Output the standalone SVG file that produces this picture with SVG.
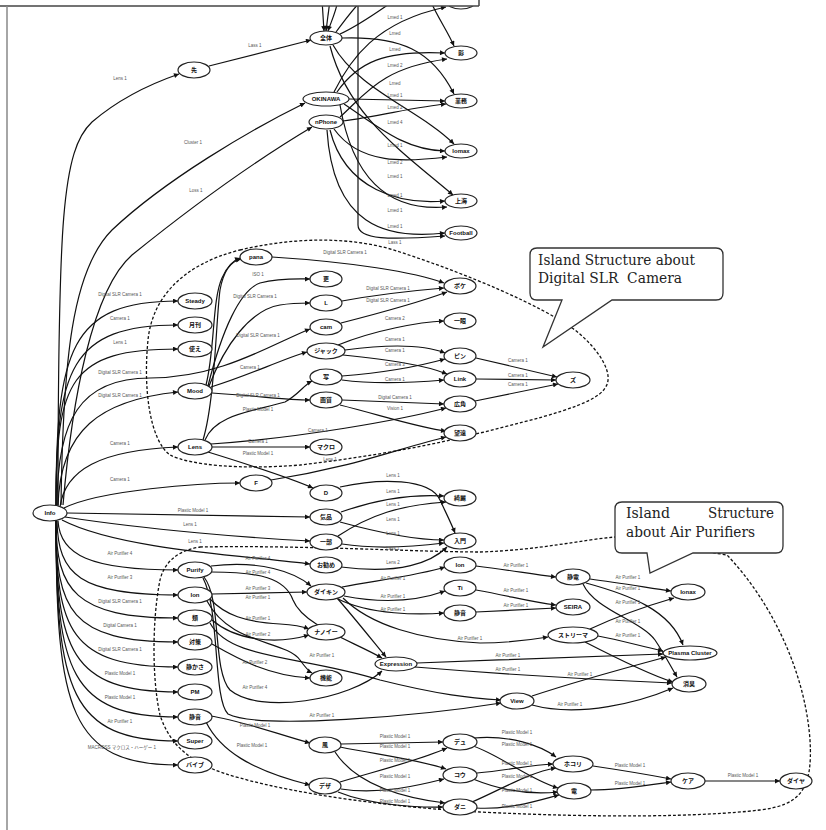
<svg xmlns="http://www.w3.org/2000/svg" width="826" height="830" viewBox="0 0 826 830">
<defs>
<marker id="a" viewBox="0 0 10 10" refX="10" refY="5" markerWidth="6" markerHeight="5" markerUnits="userSpaceOnUse" orient="auto"><path d="M0,0 L10,5 L0,10 z" fill="#111"/></marker>
<style>
.e{fill:none;stroke:#111;stroke-width:1.2;marker-end:url(#a)}
.p{fill:none;stroke:#111;stroke-width:1.2}
.l{font-family:"Liberation Sans","Noto Sans CJK JP",sans-serif;font-size:4.5px;fill:#555;text-anchor:middle}
.n ellipse{fill:#fff;stroke:#222;stroke-width:1.2}
.n text{font-family:"Liberation Sans","Noto Sans CJK JP",sans-serif;font-size:6px;font-weight:bold;fill:#111;text-anchor:middle}
.d{fill:none;stroke:#111;stroke-width:1.3;stroke-dasharray:3,2}
.c{fill:#fff;stroke:#333;stroke-width:1.3}
.ct{font-family:"DejaVu Serif","Liberation Serif",serif;font-size:14px;fill:#222}
</style>
</defs>
<rect width="826" height="830" fill="#fff"/>
<g id="islands">
<path class="d" d="M 240,250 C 290,238 350,235 400,252 C 470,275 540,305 575,330 C 600,350 615,375 605,388 C 595,405 540,418 480,433 C 420,448 360,458 300,465 C 240,470 190,465 170,455 C 150,440 143,390 148,340 C 152,300 180,265 240,250 Z"/>
<path class="d" d="M 200,547 C 300,545 420,552 480,552 C 540,550 580,540 615,537 L 727,555 C 770,600 805,670 810,740 C 813,790 800,805 760,810 C 700,817 600,818 480,812 C 400,808 300,795 240,778 C 190,765 170,745 160,715 C 152,680 152,620 160,580 C 165,560 180,550 200,547 Z"/>
</g>
<g id="connectors">
<path class="e" d="M 209,66 L 311,40"/>
<path class="e" d="M 58,505 C 58,220 62,150 92,122 C 120,98 150,84 179,74"/>
<path class="e" d="M 61,505 C 63,360 72,270 112,230 C 165,180 250,130 305,103"/>
<path class="e" d="M 63,505 C 72,400 92,290 132,255 C 200,200 265,155 312,127"/>
<path class="e" d="M 322,0 L 324,31"/>
<path class="e" d="M 330,0 L 326,31"/>
<path class="e" d="M 338,0 C 336,12 331,22 328,31"/>
<path class="p" d="M 336,32 C 345,20 352,10 362,0"/>
<path class="p" d="M 340,34 C 360,25 380,10 395,0"/>
<path class="e" d="M 358,0 L 358,225 C 358,240 390,240 445,236"/>
<path class="e" d="M 334,92 C 350,60 375,22 446,7"/>
<path class="e" d="M 430,0 C 438,18 448,32 454,46"/>
<path class="e" d="M 337,92 C 358,62 385,50 445,53"/>
<path class="e" d="M 340,117 C 365,95 380,68 447,59"/>
<path class="e" d="M 342,38 C 400,36 432,50 454,94"/>
<path class="e" d="M 349,99 L 445,101"/>
<path class="e" d="M 343,121 C 380,116 420,106 446,104"/>
<path class="e" d="M 333,45 C 358,90 420,110 454,144"/>
<path class="e" d="M 344,104 C 380,128 405,150 445,151"/>
<path class="e" d="M 334,129 C 360,165 405,162 447,157"/>
<path class="e" d="M 330,46 C 348,115 400,150 453,195"/>
<path class="e" d="M 330,130 C 345,190 400,205 445,201"/>
<path class="e" d="M 340,105 C 352,175 385,212 447,207"/>
<path class="e" d="M 327,130 C 333,225 385,240 445,233"/>
<path class="e" d="M 56,506 C 56,350 70,301 178,301"/>
<path class="e" d="M 56,506 C 56,370 70,325 178,325"/>
<path class="e" d="M 56,506 C 56,380 70,349 178,349"/>
<path class="e" d="M 58,506 C 60,430 100,400 178,392"/>
<path class="e" d="M 60,507 C 65,470 100,450 178,447"/>
<path class="e" d="M 64,508 C 100,490 200,483 240,483"/>
<path class="e" d="M 57,506 C 57,420 80,378 150,378 C 220,378 270,345 310,329"/>
<path class="e" d="M 67,513 L 310,517"/>
<path class="e" d="M 65,517 C 150,530 250,538 310,541"/>
<path class="e" d="M 62,520 C 120,550 250,556 310,564"/>
<path class="e" d="M 58,521 C 60,555 90,570 178,570"/>
<path class="e" d="M 57,521 C 58,575 80,595 178,595"/>
<path class="e" d="M 56,521 C 56,590 75,618 178,618"/>
<path class="e" d="M 56,521 C 56,610 70,642 178,642"/>
<path class="e" d="M 56,521 C 56,630 70,667 178,667"/>
<path class="e" d="M 56,521 C 56,650 70,692 178,692"/>
<path class="e" d="M 56,521 C 56,670 70,717 178,717"/>
<path class="e" d="M 56,521 C 56,690 70,741 178,741"/>
<path class="e" d="M 56,521 C 56,710 70,765 178,765"/>
<path class="e" d="M 206,385 C 215,350 212,300 222,278 C 228,264 234,260 240,258"/>
<path class="e" d="M 203,440 C 215,400 216,320 220,290 C 224,268 232,261 241,259"/>
<path class="e" d="M 208,386 C 222,330 240,290 260,283 C 280,278 295,279 310,279"/>
<path class="e" d="M 209,386 C 225,345 250,310 280,305 C 292,303 300,303 310,303"/>
<path class="e" d="M 211,387 C 250,375 280,360 307,352"/>
<path class="e" d="M 212,393 C 260,396 285,400 310,400"/>
<path class="e" d="M 205,440 C 215,415 250,412 285,402 C 298,395 304,385 312,381"/>
<path class="e" d="M 272,257 C 350,262 415,272 444,283"/>
<path class="e" d="M 342,301 C 380,294 420,290 444,288"/>
<path class="e" d="M 341,323 C 380,313 420,302 447,292"/>
<path class="e" d="M 338,345 C 375,330 420,322 444,321"/>
<path class="e" d="M 345,350 C 390,344 425,345 445,353"/>
<path class="e" d="M 343,355 C 390,360 425,365 447,374"/>
<path class="e" d="M 342,376 C 380,373 420,366 445,359"/>
<path class="e" d="M 342,380 C 380,385 420,382 444,380"/>
<path class="e" d="M 342,400 L 444,404"/>
<path class="e" d="M 340,405 C 380,415 420,428 446,431"/>
<path class="e" d="M 211,444 C 300,438 400,420 446,408"/>
<path class="e" d="M 212,447 L 310,447"/>
<path class="e" d="M 208,452 C 250,465 290,478 313,488"/>
<path class="e" d="M 271,480 C 350,468 400,448 446,437"/>
<path class="e" d="M 476,358 L 557,377"/>
<path class="e" d="M 476,379 L 556,380"/>
<path class="e" d="M 475,401 L 558,384"/>
<path class="e" d="M 340,487 C 380,478 430,478 440,500 C 447,515 452,525 455,533"/>
<path class="e" d="M 341,512 C 375,500 410,494 444,496"/>
<path class="e" d="M 340,522 C 380,533 420,540 444,540"/>
<path class="e" d="M 338,536 C 370,515 400,505 446,502"/>
<path class="e" d="M 342,544 C 380,550 420,546 444,543"/>
<path class="e" d="M 341,567 C 400,575 432,562 447,547"/>
<path class="e" d="M 211,566 C 260,560 295,572 311,586"/>
<path class="e" d="M 211,572 C 260,572 285,578 293,600 C 303,625 350,640 382,658"/>
<path class="e" d="M 204,577 C 222,600 212,670 230,690 C 260,715 350,700 382,671"/>
<path class="e" d="M 203,578 C 220,610 213,700 228,714 C 260,730 420,716 501,703"/>
<path class="e" d="M 212,594 L 307,592"/>
<path class="e" d="M 210,599 C 225,615 245,622 280,624 C 298,625 304,627 309,629"/>
<path class="e" d="M 212,620 C 235,640 275,645 309,635"/>
<path class="e" d="M 207,601 C 230,645 285,640 300,660 C 305,667 308,671 312,673"/>
<path class="e" d="M 210,623 C 230,660 300,655 380,680 C 440,695 470,698 501,700"/>
<path class="e" d="M 212,644 C 240,660 270,676 310,678"/>
<path class="e" d="M 342,587 C 380,580 420,575 445,567"/>
<path class="e" d="M 344,596 C 385,604 420,600 445,591"/>
<path class="e" d="M 338,599 C 370,615 420,615 444,613"/>
<path class="e" d="M 337,598 C 352,615 372,640 386,657"/>
<path class="e" d="M 343,598 C 370,625 420,640 480,643 C 510,643 530,640 548,637"/>
<path class="e" d="M 476,566 C 510,570 530,574 556,577"/>
<path class="e" d="M 476,590 C 510,596 530,602 556,605"/>
<path class="e" d="M 476,612 L 556,608"/>
<path class="e" d="M 590,579 C 620,583 650,588 671,591"/>
<path class="e" d="M 586,583 C 630,595 670,610 683,645"/>
<path class="e" d="M 583,584 C 595,610 640,620 655,640 C 665,655 670,665 677,677"/>
<path class="e" d="M 590,629 C 620,615 650,605 674,598"/>
<path class="e" d="M 598,636 C 620,640 640,646 663,651"/>
<path class="e" d="M 585,642 C 620,660 650,675 673,682"/>
<path class="e" d="M 417,663 C 500,660 600,656 663,654"/>
<path class="e" d="M 415,667 C 500,674 600,680 672,683"/>
<path class="e" d="M 532,696 C 580,680 640,664 666,657"/>
<path class="e" d="M 532,705 C 580,718 640,702 673,688"/>
<path class="e" d="M 210,716 C 240,720 280,735 310,743"/>
<path class="e" d="M 206,722 C 220,750 250,770 310,785"/>
<path class="e" d="M 341,744 L 443,742"/>
<path class="e" d="M 340,747 C 380,755 420,760 446,769"/>
<path class="e" d="M 335,752 C 350,775 380,795 445,803"/>
<path class="e" d="M 340,782 C 380,770 420,760 447,748"/>
<path class="e" d="M 341,789 C 380,795 420,785 444,779"/>
<path class="e" d="M 338,792 C 370,805 420,808 443,807"/>
<path class="e" d="M 474,738 C 510,735 540,745 556,757"/>
<path class="e" d="M 473,746 C 500,755 530,780 558,788"/>
<path class="e" d="M 477,773 C 510,770 530,765 553,764"/>
<path class="e" d="M 473,779 C 500,790 530,795 558,792"/>
<path class="e" d="M 472,802 C 500,790 530,772 556,768"/>
<path class="e" d="M 476,808 C 510,810 540,800 559,795"/>
<path class="e" d="M 593,766 C 620,770 650,775 671,779"/>
<path class="e" d="M 590,790 C 620,790 650,785 671,782"/>
<path class="e" d="M 705,781 L 780,781"/>
<g id="edge-labels">
<text class="l" x="255" y="47">Lass 1</text>
<text class="l" x="120" y="80">Lens 1</text>
<text class="l" x="193" y="144">Cluster 1</text>
<text class="l" x="196" y="192">Loss 1</text>
<text class="l" x="395" y="19">Lmed 1</text>
<text class="l" x="395" y="35">Lmed</text>
<text class="l" x="395" y="51">Lmed</text>
<text class="l" x="395" y="67">Lmed 2</text>
<text class="l" x="395" y="85">Lmed</text>
<text class="l" x="395" y="97">Lmed 1</text>
<text class="l" x="395" y="109">Lmed 2</text>
<text class="l" x="395" y="124">Lmed 4</text>
<text class="l" x="395" y="147">Lmed 1</text>
<text class="l" x="395" y="164">Lmed 2</text>
<text class="l" x="395" y="178">Lmed 1</text>
<text class="l" x="395" y="197">Lmed 1</text>
<text class="l" x="395" y="212">Lmed 1</text>
<text class="l" x="395" y="228">Lmed 1</text>
<text class="l" x="395" y="244">Lass 1</text>
<text class="l" x="120" y="296">Digital SLR Camera 1</text>
<text class="l" x="120" y="320">Camera 1</text>
<text class="l" x="120" y="344">Lens 1</text>
<text class="l" x="120" y="374">Digital SLR Camera 1</text>
<text class="l" x="120" y="397">Digital SLR Camera 1</text>
<text class="l" x="120" y="445">Camera 1</text>
<text class="l" x="120" y="481">Camera 1</text>
<text class="l" x="345" y="254">Digital SLR Camera 1</text>
<text class="l" x="258" y="276">ISO 1</text>
<text class="l" x="255" y="298">Digital SLR Camera 1</text>
<text class="l" x="388" y="290">Digital SLR Camera 1</text>
<text class="l" x="388" y="302">Digital SLR Camera 1</text>
<text class="l" x="258" y="337">Digital SLR Camera 1</text>
<text class="l" x="395" y="320">Camera 2</text>
<text class="l" x="395" y="341">Camera 1</text>
<text class="l" x="395" y="352">Camera 1</text>
<text class="l" x="395" y="366">Camera 3</text>
<text class="l" x="395" y="381">Camera 1</text>
<text class="l" x="250" y="369">Camera 1</text>
<text class="l" x="258" y="397">Digital SLR Camera 1</text>
<text class="l" x="258" y="411">Plastic Model 1</text>
<text class="l" x="395" y="399">Digital Camera 1</text>
<text class="l" x="395" y="410">Vision 1</text>
<text class="l" x="318" y="432">Camera 1</text>
<text class="l" x="258" y="443">Camera 1</text>
<text class="l" x="258" y="455">Plastic Model 1</text>
<text class="l" x="330" y="461">Lens 1</text>
<text class="l" x="518" y="362">Camera 1</text>
<text class="l" x="518" y="377">Camera 1</text>
<text class="l" x="518" y="386">Camera 1</text>
<text class="l" x="193" y="512">Plastic Model 1</text>
<text class="l" x="190" y="526">Lens 1</text>
<text class="l" x="195" y="543">Lens 1</text>
<text class="l" x="393" y="477">Lens 1</text>
<text class="l" x="393" y="493">Lens 1</text>
<text class="l" x="393" y="506">Lens 1</text>
<text class="l" x="393" y="521">Lens 1</text>
<text class="l" x="393" y="535">Lens 1</text>
<text class="l" x="393" y="550">Lass 1</text>
<text class="l" x="393" y="564">Lens 2</text>
<text class="l" x="120" y="555">Air Purifier 4</text>
<text class="l" x="120" y="579">Air Purifier 3</text>
<text class="l" x="120" y="603">Digital SLR Camera 1</text>
<text class="l" x="120" y="627">Digital Camera 1</text>
<text class="l" x="120" y="651">Digital SLR Camera 1</text>
<text class="l" x="120" y="675">Plastic Model 1</text>
<text class="l" x="120" y="699">Plastic Model 1</text>
<text class="l" x="120" y="723">Air Purifier 1</text>
<text class="l" x="122" y="749">MACROSS マクロス・ハーゲー 1</text>
<text class="l" x="258" y="560">Air Purifier 4</text>
<text class="l" x="258" y="574">Air Purifier 4</text>
<text class="l" x="258" y="590">Air Purifier 3</text>
<text class="l" x="258" y="599">Air Purifier 1</text>
<text class="l" x="258" y="620">Air Purifier 1</text>
<text class="l" x="258" y="636">Air Purifier 2</text>
<text class="l" x="322" y="657">Air Purifier 1</text>
<text class="l" x="255" y="664">Air Purifier 2</text>
<text class="l" x="255" y="689">Air Purifier 4</text>
<text class="l" x="322" y="717">Air Purifier 1</text>
<text class="l" x="393" y="580">Air Purifier 1</text>
<text class="l" x="393" y="598">Air Purifier 1</text>
<text class="l" x="393" y="611">Air Purifier 1</text>
<text class="l" x="470" y="640">Air Purifier 1</text>
<text class="l" x="516" y="567">Air Purifier 1</text>
<text class="l" x="516" y="592">Air Purifier 1</text>
<text class="l" x="516" y="607">Air Purifier 1</text>
<text class="l" x="628" y="579">Air Purifier 1</text>
<text class="l" x="628" y="590">Air Purifier 1</text>
<text class="l" x="628" y="604">Air Purifier 1</text>
<text class="l" x="628" y="623">Air Purifier 1</text>
<text class="l" x="628" y="637">Air Purifier 1</text>
<text class="l" x="508" y="657">Air Purifier 1</text>
<text class="l" x="508" y="671">Air Purifier 1</text>
<text class="l" x="580" y="676">Air Purifier 1</text>
<text class="l" x="570" y="706">Air Purifier 1</text>
<text class="l" x="255" y="727">Plastic Model 1</text>
<text class="l" x="252" y="747">Plastic Model 1</text>
<text class="l" x="395" y="738">Plastic Model 1</text>
<text class="l" x="395" y="748">Plastic Model 1</text>
<text class="l" x="395" y="762">Plastic Model 1</text>
<text class="l" x="395" y="778">Plastic Model 1</text>
<text class="l" x="395" y="792">Plastic Model 1</text>
<text class="l" x="395" y="803">Plastic Model 1</text>
<text class="l" x="517" y="734">Plastic Model 1</text>
<text class="l" x="517" y="746">Plastic Model 1</text>
<text class="l" x="517" y="765">Plastic Model 1</text>
<text class="l" x="517" y="778">Plastic Model 1</text>
<text class="l" x="517" y="792">Plastic Model 1</text>
<text class="l" x="517" y="808">Plastic Model 1</text>
<text class="l" x="630" y="767">Plastic Model 1</text>
<text class="l" x="630" y="785">Plastic Model 1</text>
<text class="l" x="743" y="777">Plastic Model 1</text>
</g>
</g>
<g id="nodes">
<g class="n" id="n-info"><ellipse cx="50" cy="513" rx="17" ry="8"/><text x="50" y="515">Info</text></g>
<g class="n" id="n-sen"><ellipse cx="194" cy="70" rx="16" ry="8"/><text x="194" y="72">先</text></g>
<g class="n" id="n-zentai"><ellipse cx="326" cy="38" rx="16" ry="7"/><text x="326" y="40">全体</text></g>
<g class="n" id="n-okinawa"><ellipse cx="326" cy="99" rx="23" ry="7"/><text x="326" y="101">OKINAWA</text></g>
<g class="n" id="n-nphone"><ellipse cx="326" cy="122" rx="17" ry="7"/><text x="326" y="124">nPhone</text></g>
<g class="n" id="n-top"><ellipse cx="461" cy="1" rx="15" ry="8"/></g>
<g class="n" id="n-kage"><ellipse cx="461" cy="53" rx="16" ry="7"/><text x="461" y="55">影</text></g>
<g class="n" id="n-gyomu"><ellipse cx="461" cy="101" rx="16" ry="7"/><text x="461" y="103">業務</text></g>
<g class="n" id="n-lomax"><ellipse cx="461" cy="151" rx="16" ry="7"/><text x="461" y="153">lomax</text></g>
<g class="n" id="n-shanghai"><ellipse cx="461" cy="201" rx="16" ry="7"/><text x="461" y="203">上海</text></g>
<g class="n" id="n-football"><ellipse cx="461" cy="233" rx="16" ry="7"/><text x="461" y="235">Football</text></g>
<g class="n" id="n-steady"><ellipse cx="195" cy="301" rx="17" ry="8"/><text x="195" y="303">Steady</text></g>
<g class="n" id="n-gekkan"><ellipse cx="195" cy="325" rx="17" ry="8"/><text x="195" y="327">月刊</text></g>
<g class="n" id="n-tsukae"><ellipse cx="195" cy="349" rx="17" ry="8"/><text x="195" y="351">使え</text></g>
<g class="n" id="n-mood"><ellipse cx="195" cy="391" rx="17" ry="8"/><text x="195" y="393">Mood</text></g>
<g class="n" id="n-lens"><ellipse cx="195" cy="447" rx="17" ry="8"/><text x="195" y="449">Lens</text></g>
<g class="n" id="n-pana"><ellipse cx="256" cy="257" rx="16" ry="8"/><text x="256" y="259">pana</text></g>
<g class="n" id="n-sara"><ellipse cx="326" cy="279" rx="16" ry="8"/><text x="326" y="281">更</text></g>
<g class="n" id="n-l"><ellipse cx="326" cy="303" rx="16" ry="8"/><text x="326" y="305">L</text></g>
<g class="n" id="n-cam"><ellipse cx="326" cy="327" rx="16" ry="8"/><text x="326" y="329">cam</text></g>
<g class="n" id="n-jack"><ellipse cx="326" cy="351" rx="19" ry="8"/><text x="326" y="353">ジャック</text></g>
<g class="n" id="n-sha"><ellipse cx="326" cy="377" rx="16" ry="8"/><text x="326" y="379">写</text></g>
<g class="n" id="n-gashitsu"><ellipse cx="326" cy="400" rx="16" ry="8"/><text x="326" y="402">画質</text></g>
<g class="n" id="n-macro"><ellipse cx="326" cy="447" rx="16" ry="8"/><text x="326" y="449">マクロ</text></g>
<g class="n" id="n-boke"><ellipse cx="460" cy="286" rx="16" ry="8"/><text x="460" y="288">ボケ</text></g>
<g class="n" id="n-ichigan"><ellipse cx="460" cy="321" rx="16" ry="8"/><text x="460" y="323">一眼</text></g>
<g class="n" id="n-pin"><ellipse cx="460" cy="356" rx="16" ry="8"/><text x="460" y="358">ピン</text></g>
<g class="n" id="n-link"><ellipse cx="460" cy="379" rx="16" ry="8"/><text x="460" y="381">Link</text></g>
<g class="n" id="n-kokaku"><ellipse cx="460" cy="404" rx="16" ry="8"/><text x="460" y="406">広角</text></g>
<g class="n" id="n-boen"><ellipse cx="460" cy="433" rx="16" ry="8"/><text x="460" y="435">望遠</text></g>
<g class="n" id="n-zu"><ellipse cx="573" cy="380" rx="17" ry="8"/><text x="573" y="382">ズ</text></g>
<g class="n" id="n-f"><ellipse cx="256" cy="483" rx="16" ry="8"/><text x="256" y="485">F</text></g>
<g class="n" id="n-d"><ellipse cx="326" cy="493" rx="16" ry="8"/><text x="326" y="495">D</text></g>
<g class="n" id="n-kihin"><ellipse cx="326" cy="517" rx="16" ry="8"/><text x="326" y="519">気品</text></g>
<g class="n" id="n-ichibu"><ellipse cx="326" cy="542" rx="16" ry="8"/><text x="326" y="544">一部</text></g>
<g class="n" id="n-osusume"><ellipse cx="326" cy="565" rx="16" ry="8"/><text x="326" y="567">お勧め</text></g>
<g class="n" id="n-kirei"><ellipse cx="460" cy="498" rx="16" ry="8"/><text x="460" y="500">綺麗</text></g>
<g class="n" id="n-nyumon"><ellipse cx="460" cy="541" rx="16" ry="8"/><text x="460" y="543">入門</text></g>
<g class="n" id="n-purify"><ellipse cx="195" cy="570" rx="17" ry="8"/><text x="195" y="572">Purify</text></g>
<g class="n" id="n-ion"><ellipse cx="195" cy="595" rx="17" ry="8"/><text x="195" y="597">Ion</text></g>
<g class="n" id="n-rui"><ellipse cx="195" cy="618" rx="17" ry="8"/><text x="195" y="620">類</text></g>
<g class="n" id="n-taisaku"><ellipse cx="195" cy="642" rx="17" ry="8"/><text x="195" y="644">対策</text></g>
<g class="n" id="n-shizukasa"><ellipse cx="195" cy="667" rx="17" ry="8"/><text x="195" y="669">静かさ</text></g>
<g class="n" id="n-pm"><ellipse cx="195" cy="692" rx="17" ry="8"/><text x="195" y="694">PM</text></g>
<g class="n" id="n-seion"><ellipse cx="195" cy="717" rx="17" ry="8"/><text x="195" y="719">静音</text></g>
<g class="n" id="n-super"><ellipse cx="195" cy="741" rx="17" ry="8"/><text x="195" y="743">Super</text></g>
<g class="n" id="n-vibe"><ellipse cx="195" cy="765" rx="17" ry="8"/><text x="195" y="767">バイブ</text></g>
<g class="n" id="n-daikin"><ellipse cx="326" cy="592" rx="19" ry="8"/><text x="326" y="594">ダイキン</text></g>
<g class="n" id="n-nanoe"><ellipse cx="326" cy="632" rx="19" ry="8"/><text x="326" y="634">ナノイー</text></g>
<g class="n" id="n-kino"><ellipse cx="326" cy="678" rx="16" ry="8"/><text x="326" y="680">機能</text></g>
<g class="n" id="n-expr"><ellipse cx="396" cy="664" rx="21" ry="7"/><text x="396" y="666">Expression</text></g>
<g class="n" id="n-ion2"><ellipse cx="460" cy="565" rx="16" ry="8"/><text x="460" y="567">Ion</text></g>
<g class="n" id="n-ti"><ellipse cx="460" cy="588" rx="16" ry="8"/><text x="460" y="590">Ti</text></g>
<g class="n" id="n-seion2"><ellipse cx="460" cy="613" rx="16" ry="8"/><text x="460" y="615">静音</text></g>
<g class="n" id="n-seiden"><ellipse cx="573" cy="577" rx="17" ry="8"/><text x="573" y="579">静電</text></g>
<g class="n" id="n-seira"><ellipse cx="573" cy="607" rx="17" ry="8"/><text x="573" y="609">SEIRA</text></g>
<g class="n" id="n-ionax"><ellipse cx="688" cy="592" rx="17" ry="8"/><text x="688" y="594">Ionax</text></g>
<g class="n" id="n-streamer"><ellipse cx="573" cy="635" rx="25" ry="8"/><text x="573" y="637">ストリーマ</text></g>
<g class="n" id="n-plasma"><ellipse cx="690" cy="653" rx="27" ry="7"/><text x="690" y="655">Plasma Cluster</text></g>
<g class="n" id="n-shoshu"><ellipse cx="689" cy="684" rx="17" ry="8"/><text x="689" y="686">消臭</text></g>
<g class="n" id="n-view"><ellipse cx="517" cy="701" rx="17" ry="8"/><text x="517" y="703">View</text></g>
<g class="n" id="n-kaze"><ellipse cx="325" cy="745" rx="16" ry="8"/><text x="325" y="747">風</text></g>
<g class="n" id="n-deza"><ellipse cx="325" cy="786" rx="16" ry="8"/><text x="325" y="788">デザ</text></g>
<g class="n" id="n-dyu"><ellipse cx="460" cy="742" rx="17" ry="8"/><text x="460" y="744">デュ</text></g>
<g class="n" id="n-kou"><ellipse cx="460" cy="775" rx="17" ry="8"/><text x="460" y="777">コウ</text></g>
<g class="n" id="n-dani"><ellipse cx="460" cy="807" rx="17" ry="8"/><text x="460" y="809">ダニ</text></g>
<g class="n" id="n-hokori"><ellipse cx="573" cy="764" rx="20" ry="8"/><text x="573" y="766">ホコリ</text></g>
<g class="n" id="n-den"><ellipse cx="574" cy="791" rx="17" ry="8"/><text x="574" y="793">電</text></g>
<g class="n" id="n-kea"><ellipse cx="688" cy="781" rx="17" ry="8"/><text x="688" y="783">ケア</text></g>
<g class="n" id="n-daiya"><ellipse cx="796" cy="781" rx="16" ry="8"/><text x="796" y="783">ダイヤ</text></g>
</g>
<g id="callouts">
<path class="c" d="M 537,248 H 716 Q 723,248 723,255 V 293 Q 723,300 716,300 H 612 L 543,347 L 562,300 H 537 Q 530,300 530,293 V 255 Q 530,248 537,248 Z"/>
<text class="ct" x="538" y="265" textLength="157" lengthAdjust="spacingAndGlyphs">Island Structure about</text>
<text class="ct" x="538" y="283" textLength="144" lengthAdjust="spacingAndGlyphs" style="white-space:pre">Digital SLR  Camera</text>
<path class="c" d="M 622,502 H 776 Q 783,502 783,509 V 546 Q 783,553 776,553 H 693 L 650,573 L 647,553 H 622 Q 615,553 615,546 V 509 Q 615,502 622,502 Z"/>
<text class="ct" y="518"><tspan x="626" textLength="44" lengthAdjust="spacingAndGlyphs">Island</tspan><tspan x="708" textLength="66" lengthAdjust="spacingAndGlyphs">Structure</tspan></text>
<text class="ct" x="626" y="537" textLength="129" lengthAdjust="spacingAndGlyphs">about Air Purifiers</text>
</g>
<g id="frame">
<rect x="0" y="0" width="480" height="6" fill="#fff"/>
<line x1="0" y1="6" x2="479" y2="6" stroke="#444" stroke-width="1.5"/>
<line x1="479" y1="0" x2="479" y2="6" stroke="#444" stroke-width="1.5"/>
<line x1="7" y1="6" x2="7" y2="830" stroke="#888" stroke-width="1.5"/>
</g>
</svg>
